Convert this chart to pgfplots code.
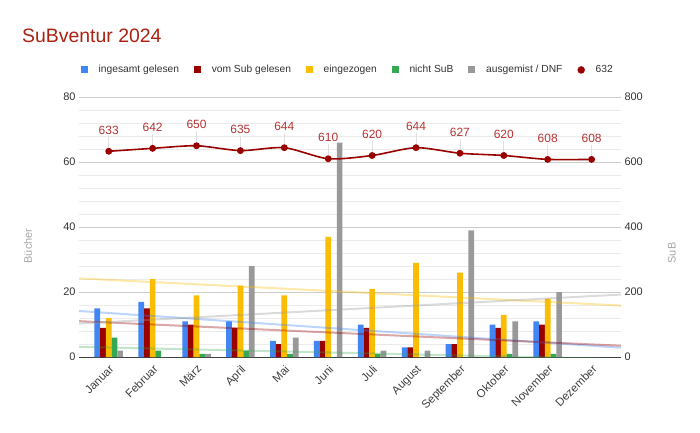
\documentclass[border=0pt]{standalone}
\usepackage{pgfplots}
\pgfplotsset{compat=1.18}
\usepackage{fontspec}
\setmainfont{Liberation Sans}
\definecolor{cblue}{HTML}{4285F4}
\definecolor{cdred}{HTML}{990000}
\definecolor{cyel}{HTML}{FBBC04}
\definecolor{cgreen}{HTML}{34A853}
\definecolor{cgray}{HTML}{999999}
\definecolor{ctitle}{RGB}{170,34,17}
\definecolor{clabel}{RGB}{183,50,50}
\pgfplotsset{
  barleg/.style={legend image code/.code={\fill[##1] (0bp,-3.5bp) rectangle (7bp,3.5bp);}},
  geom/.style={at={(79bp,75bp)}, anchor=south west, scale only axis,
    width=542bp, height=260bp, xmin=-0.677, xmax=11.67},
}
\begin{document}
\begin{tikzpicture}[x=1bp,y=1bp]
\useasboundingbox (0,0) rectangle (700,432);
\node[anchor=base west, font=\fontsize{19.5}{23}\selectfont, text=ctitle, inner sep=0] at (22,389) {SuBventur 2024};

\begin{axis}[geom,
  ymin=0, ymax=80,
  ybar=0pt, bar width=5.7bp,
  xtick={0,...,11},
  xticklabels={Januar,Februar,März,April,Mai,Juni,Juli,August,September,Oktober,November,Dezember},
  x tick label style={rotate=45, anchor=north east, font=\fontsize{11.5}{13}\selectfont, text=black!75, inner sep=2bp},
  ytick={0,20,...,80}, minor ytick={4,8,...,76},
  y tick label style={font=\fontsize{11}{13}\selectfont, text=black!80},
  /pgf/number format/assume math mode=true,
  ymajorgrids, yminorgrids,
  major grid style={draw=black!20, line width=0.8bp},
  minor grid style={draw=black!8, line width=0.8bp},
  axis x line*=bottom, axis y line*=left,
  x axis line style={draw=black!75, line width=1bp, -},
  y axis line style={draw=none},
  xtick style={draw=none}, ytick style={draw=none}, minor tick style={draw=none},
  every axis y label/.style={at={(axis description cs:-0.094,0.427)}, rotate=90, anchor=center},
  ylabel={Bücher}, ylabel style={font=\fontsize{11}{13}\selectfont, text=black!35},
  legend columns=6,
  legend style={draw=none, fill=none, at={(0.496,1.104)}, anchor=center,
    font=\fontsize{10.3}{12}\selectfont, text=black!80,
    /tikz/every even column/.append style={column sep=13bp},
    /tikz/every odd column/.append style={column sep=8.7bp}},
]
\addplot[fill=cblue, draw=none, barleg] coordinates {(0,15)(1,17)(2,11)(3,11)(4,5)(5,5)(6,10)(7,3)(8,4)(9,10)(10,11)};
\addplot[fill=cdred, draw=none, barleg] coordinates {(0,9)(1,15)(2,10)(3,9)(4,4)(5,5)(6,9)(7,3)(8,4)(9,9)(10,10)};
\addplot[fill=cyel, draw=none, barleg] coordinates {(0,12)(1,24)(2,19)(3,22)(4,19)(5,37)(6,21)(7,29)(8,26)(9,13)(10,18)};
\addplot[fill=cgreen, draw=none, barleg] coordinates {(0,6)(1,2)(2,1)(3,2)(4,1)(5,0)(6,1)(7,0)(8,0)(9,1)(10,1)};
\addplot[fill=cgray, draw=none, barleg] coordinates {(0,2)(1,0)(2,1)(3,28)(4,6)(5,66)(6,2)(7,2)(8,39)(9,11)(10,20)};
\addlegendimage{legend image code/.code={\fill[cdred] (3.5bp,0bp) circle (3.5bp);}}
\legend{ingesamt gelesen, vom Sub gelesen, eingezogen, nicht SuB, ausgemist / DNF, 632}
\end{axis}

% trendlines
\begin{axis}[geom, ymin=0, ymax=80, hide axis]
\addplot[cblue, line width=2bp, opacity=0.35] coordinates {(-0.677,14.16)(11.67,2.85)};
\addplot[cdred, line width=2bp, opacity=0.35] coordinates {(-0.677,11.03)(11.67,3.47)};
\addplot[cyel, line width=2bp, opacity=0.35] coordinates {(-0.677,24.19)(11.67,15.82)};
\addplot[cgreen, line width=2bp, opacity=0.3] coordinates {(-0.677,3.13)(11.67,-0.63)};
\addplot[cgray, line width=2bp, opacity=0.35] coordinates {(-0.677,10.28)(11.67,19.22)};
\end{axis}

\begin{axis}[geom, ymin=0, ymax=800,
  axis x line=none, axis y line*=right,
  y axis line style={draw=none}, ytick style={draw=none},
  ytick={0,200,...,800},
  y tick label style={font=\fontsize{11}{13}\selectfont, text=black!80},
  /pgf/number format/assume math mode=true,
  every axis y label/.style={at={(axis description cs:1.094,0.40)}, rotate=90, anchor=center},
  ylabel={SuB}, ylabel style={font=\fontsize{11}{13}\selectfont, text=black!35},
]
\addplot[draw=none, mark=none, forget plot,
  error bars/.cd, y dir=plus, y fixed=44, error mark=none,
  error bar style={draw=black!12, line width=0.7bp}]
  coordinates {(0,633)(1,642)(2,650)(3,635)(4,644)(5,610)(6,620)(7,644)(8,627)(9,620)(10,608)(11,608)};
\addplot[cdred, line width=1.6bp, smooth, tension=0.45, mark=*, mark size=2.6bp,
  mark options={fill=cdred, draw=cdred},
  nodes near coords,
  every node near coord/.append style={anchor=center, yshift=21bp, font=\fontsize{12}{14}\selectfont, text=clabel}]
  coordinates {(0,633)(1,642)(2,650)(3,635)(4,644)(5,610)(6,620)(7,644)(8,627)(9,620)(10,608)(11,608)};
\end{axis}
\end{tikzpicture}
\end{document}
